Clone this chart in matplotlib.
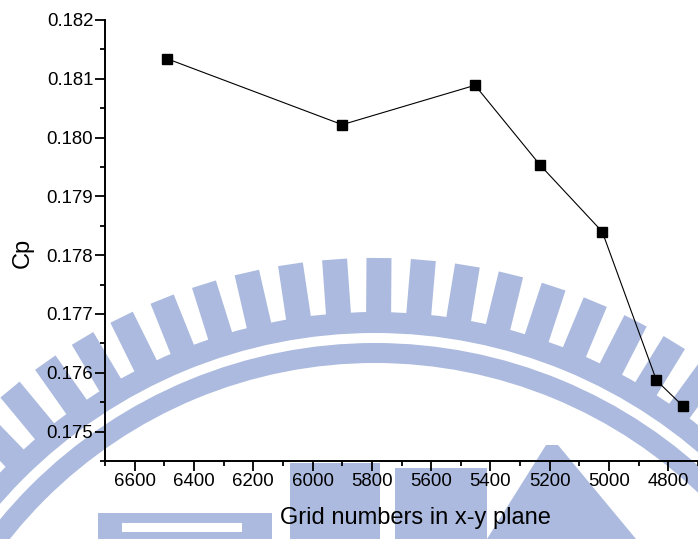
import numpy as np
import matplotlib
matplotlib.use("Agg")
import matplotlib.pyplot as plt
from matplotlib.patches import Polygon, Rectangle, Wedge
from matplotlib.ticker import MultipleLocator, FormatStrFormatter

# ---- data ----
grid_numbers = [6490, 5900, 5452, 5232, 5023, 4840, 4750]
cp_values = [0.18134, 0.18022, 0.18089, 0.17953, 0.17840, 0.17587, 0.17543]
x_label = "Grid numbers in x-y plane"
y_label = "Cp"

plt.rcParams['font.family'] = ['Liberation Sans', 'DejaVu Sans']

W, H = 698, 539
fig = plt.figure(figsize=(W / 100, H / 100), dpi=100)

# ---- background watermark (decorative) ----
bg = fig.add_axes([0, 0, 1, 1], zorder=0)
bg.set_xlim(0, W)
bg.set_ylim(H, 0)
bg.axis('off')
wm = '#abbade'
cx, cy = 375, 830
# teeth
for k in range(-11, 12):
    th = np.radians(0.4 + 4.45 * k)
    u = np.array([np.sin(th), -np.cos(th)])
    v = np.array([np.cos(th), np.sin(th)])
    c = np.array([cx, cy])
    r1, r2, w = 512, 572, 25
    pts = [c + r1 * u - w / 2 * v, c + r2 * u - w / 2 * v,
           c + r2 * u + w / 2 * v, c + r1 * u + w / 2 * v]
    bg.add_patch(Polygon(pts, closed=True, facecolor=wm, edgecolor='none'))
# bands
bg.add_patch(Wedge((cx, cy), 518, 0, 360, width=21, facecolor=wm, edgecolor='none'))
bg.add_patch(Wedge((cx, cy), 487, 0, 360, width=20, facecolor=wm, edgecolor='none'))
# bottom blocks
bg.add_patch(Rectangle((98, 513), 174, 30, facecolor=wm, edgecolor='none'))
bg.add_patch(Rectangle((122, 523), 120, 9, facecolor='white', edgecolor='none'))
bg.add_patch(Rectangle((290, 463), 90, 80, facecolor=wm, edgecolor='none'))
bg.add_patch(Rectangle((395, 468), 92, 75, facecolor=wm, edgecolor='none'))
bg.add_patch(Polygon([(487, 539), (546, 445), (558, 445), (636, 539)],
                     closed=True, facecolor=wm, edgecolor='none'))

# ---- main chart ----
ax = fig.add_axes([105 / W, 78 / H, 593 / W, 441 / H], zorder=1)
ax.patch.set_alpha(0)
ax.plot(grid_numbers, cp_values, color='black', lw=0.8, marker='s',
        markersize=7, markerfacecolor='black', markeredgecolor='black',
        clip_on=False)

ax.set_xlim(6700, 4700)
ax.set_ylim(0.1745, 0.182)
ax.xaxis.set_major_locator(MultipleLocator(200))
ax.xaxis.set_minor_locator(MultipleLocator(100))
ax.yaxis.set_major_locator(MultipleLocator(0.001))
ax.yaxis.set_minor_locator(MultipleLocator(0.0005))
ax.yaxis.set_major_formatter(FormatStrFormatter('%.3f'))

for s in ['top', 'right']:
    ax.spines[s].set_visible(False)
for s in ['left', 'bottom']:
    ax.spines[s].set_linewidth(1.4)

ax.tick_params(which='major', direction='out', length=7, width=1.3,
               labelsize=13.4, pad=1.5, colors='black')
ax.tick_params(which='minor', direction='out', length=3.8, width=1.3)

ax.set_xlabel(x_label, fontsize=17)
ax.xaxis.label.set_va('baseline')
ax.xaxis.set_label_coords((415.5 - 105) / 593, -(524 - 461) / 441)
ax.set_ylabel(y_label, fontsize=17)
ax.yaxis.set_label_coords((34 - 105) / 593, (461 - 253) / 441)

fig.savefig('out.png', dpi=100)
